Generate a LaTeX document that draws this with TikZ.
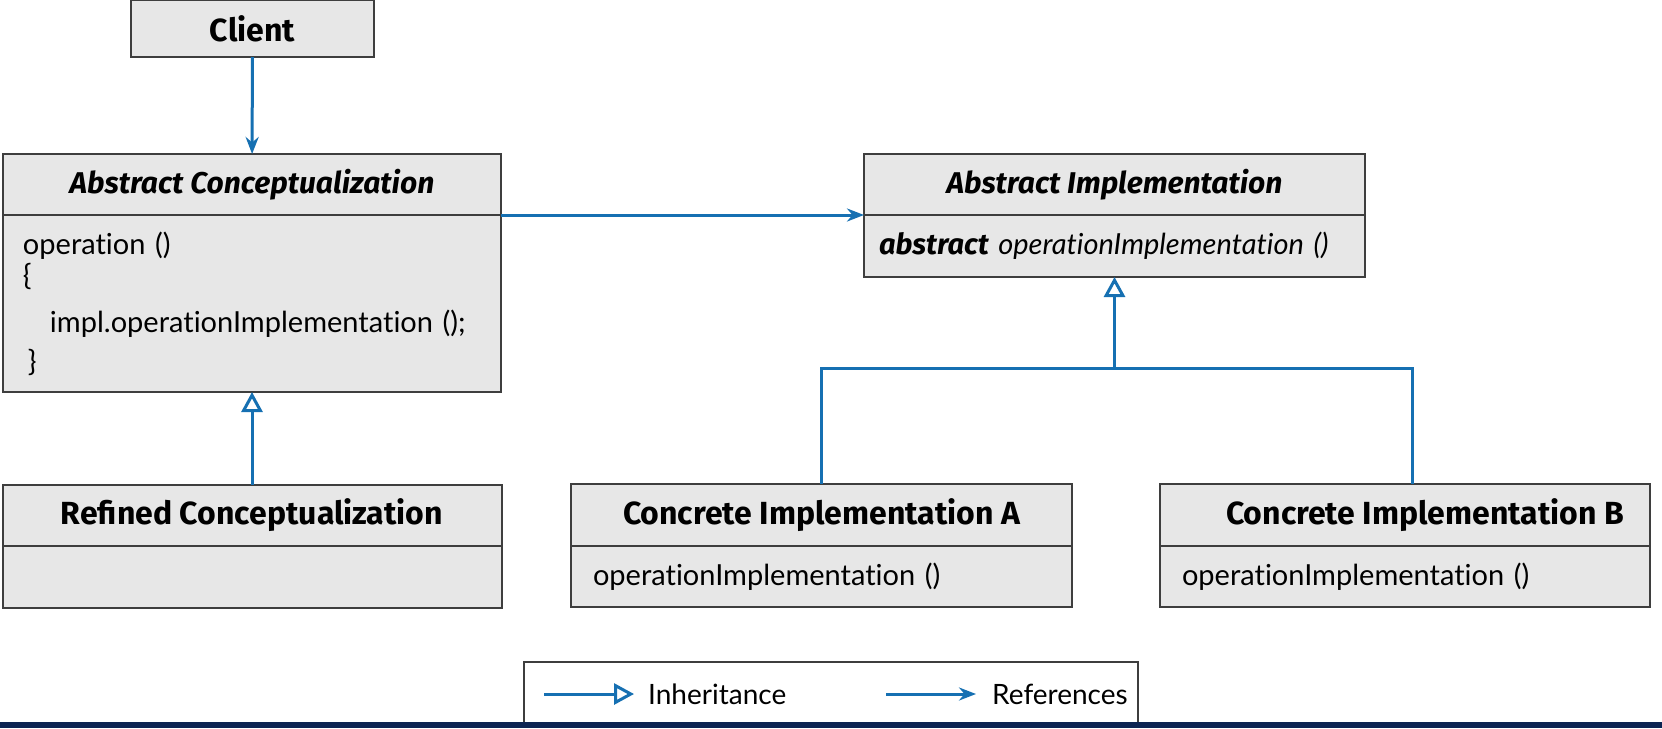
\documentclass[tikz,border=0pt]{standalone}
\usepackage{fontspec}
\setmainfont{Lato}[Ligatures=NoCommon]
\newfontfamily\headfont{Fira Sans}
\usetikzlibrary{arrows.meta,positioning}

\definecolor{umlblue}{RGB}{22,112,178}
\definecolor{boxgray}{RGB}{231,231,231}
\definecolor{boxline}{RGB}{62,62,62}
\definecolor{barnavy}{RGB}{12,36,82}

\tikzset{
  classhead/.style={draw=boxline, fill=boxgray, line width=2pt, inner sep=0pt, outer sep=0pt,
    font=\fontsize{32}{36}\selectfont\headfont\bfseries},
  abstracthead/.style={classhead, font=\fontsize{30}{34}\selectfont\headfont\bfseries\itshape},
  classbody/.style={draw=boxline, fill=boxgray, line width=2pt, inner sep=0pt, outer sep=0pt,
    align=left, font=\fontsize{29}{31}\selectfont},
  reference/.style={draw=umlblue, line width=3pt, -{Stealth[length=17pt,width=13pt]}},
  inherit/.style={draw=umlblue, line width=3pt, -{Triangle[open,length=20pt,width=21pt,fill=white]}},
  treeline/.style={draw=umlblue, line width=3pt},
  legendtext/.style={font=\fontsize{28}{30}\selectfont, inner sep=0pt},
}

\begin{document}
\begin{tikzpicture}[x=1pt,y=-1pt]
  \useasboundingbox (0,0) rectangle (1662,728);

  \node[classhead, minimum width=243, minimum height=57] (client) at (252.5,28.5) {Client};

  \node[abstracthead, minimum width=498, minimum height=61] (acH) at (252,184.5) {Abstract Conceptualization};
  \node[classbody, minimum width=498, minimum height=177, text width=458, anchor=north] (acB) at (acH.south)
    {operation ()\\\{\\[16pt]\mbox{}\hskip27pt impl.operationImplementation ();\\[8pt]\,\}};

  \node[abstracthead, minimum width=501, minimum height=61] (aiH) at (1114.5,184.5) {Abstract Implementation};
  \node[classbody, minimum width=501, minimum height=62, text width=471, anchor=north] (aiB) at (aiH.south)
    {{\headfont\bfseries\itshape abstract} \textit{operationImplementation ()}};

  \node[classhead, minimum width=499, minimum height=61] (rcH) at (252,515) {Refined Conceptualization};
  \node[classbody, minimum width=499, minimum height=62, anchor=north] (rcB) at (rcH.south) {};

  \node[classhead, minimum width=501, minimum height=62] (caH) at (821.5,515) {Concrete Implementation A};
  \node[classbody, minimum width=501, minimum height=61, text width=457, anchor=north] (caB) at (caH.south) {operationImplementation ()};

  \node[classhead, minimum width=490, minimum height=62] (cbH) at (1405,515) {\hspace*{40pt}Concrete Implementation B};
  \node[classbody, minimum width=490, minimum height=61, text width=446, anchor=north] (cbB) at (cbH.south) {operationImplementation ()};

  \coordinate (join) at (aiB.south |- 0,368);
  \coordinate (cbTop) at (1412,484);

  \draw[reference] (client) -- (acH);
  \draw[reference] (acB.north east) -- (aiB.north west);
  \draw[inherit] (rcH) -- (acB);
  \draw[treeline] (caH.north) |- (join) -| (cbTop);
  \draw[inherit] (join) -- (aiB.south);

  \node[draw=boxline, line width=1.5pt, fill=white, minimum width=614, minimum height=64] (legend) at (831,694) {};
  \coordinate (inhS) at (544,694);
  \coordinate (inhE) at (634,694);
  \coordinate (refS) at (886,694);
  \coordinate (refE) at (976,694);
  \draw[inherit] (inhS) -- (inhE);
  \draw[reference] (refS) -- (refE);
  \node[legendtext, anchor=west] (inhT) at (648,694) {Inheritance};
  \node[legendtext, anchor=west] (refT) at (992,694) {References};

  \fill[barnavy] (0,722) rectangle (1662,728);
\end{tikzpicture}
\end{document}
